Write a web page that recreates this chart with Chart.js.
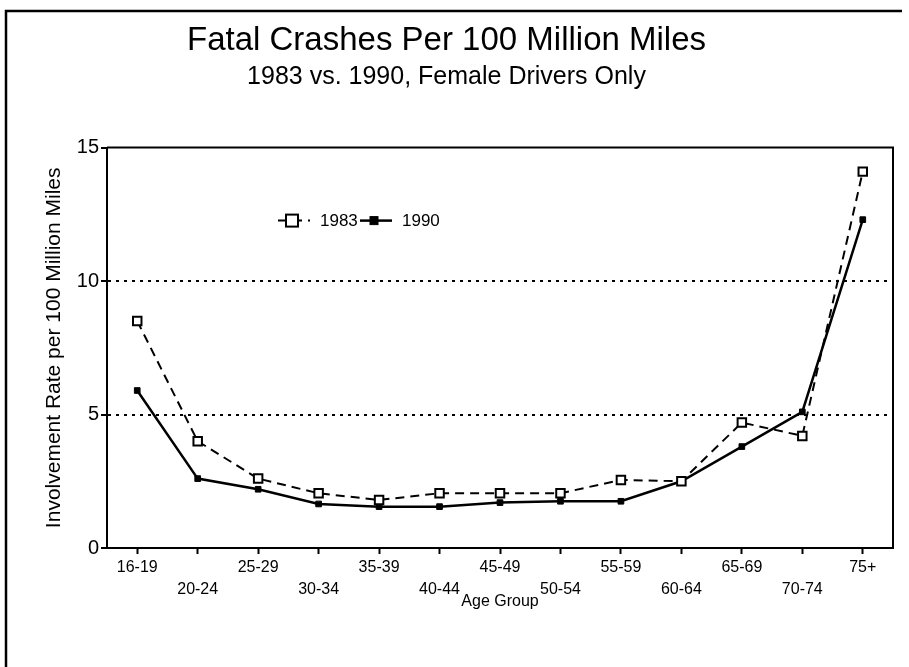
<!DOCTYPE html>
<html>
<head>
<meta charset="utf-8">
<script src="https://cdn.jsdelivr.net/npm/chart.js@4.4.1/dist/chart.umd.min.js"></script>
<style>
  html, body { margin: 0; padding: 0; background: #fff; }
  #wrap { width: 909px; height: 667px; position: relative; }
</style>
</head>
<body>
<div id="wrap"><canvas id="myChart" width="909" height="667"></canvas></div>
<script>
const ageGroups = ['16-19', '20-24', '25-29', '30-34', '35-39', '40-44', '45-49', '50-54', '55-59', '60-64', '65-69', '70-74', '75+'];
const rate1983 = [8.5, 4.0, 2.6, 2.05, 1.8, 2.05, 2.05, 2.05, 2.55, 2.5, 4.7, 4.2, 14.1];
const rate1990 = [5.9, 2.6, 2.2, 1.65, 1.55, 1.55, 1.7, 1.75, 1.75, 2.5, 3.8, 5.1, 12.3];
const yTicks = [0, 5, 10, 15];
const seriesNames = ['1983', '1990'];

const FONT = "'Liberation Sans', Arial, sans-serif";

// page frame + box round the plot
const framePlugin = {
  id: 'frame',
  beforeDraw(chart) {
    const ctx = chart.ctx;
    ctx.save();
    ctx.fillStyle = '#fff';
    ctx.fillRect(0, 0, chart.width, chart.height);
    ctx.strokeStyle = '#000';
    ctx.lineWidth = 2.5;
    ctx.beginPath();
    ctx.moveTo(6, chart.height);
    ctx.lineTo(6, 11);
    ctx.lineTo(902, 11);
    ctx.stroke();
    ctx.restore();
  },
  afterDatasetsDraw(chart) {
    const a = chart.chartArea;
    const ctx = chart.ctx;
    ctx.save();
    ctx.strokeStyle = '#000';
    ctx.lineWidth = 2;
    ctx.beginPath();
    ctx.moveTo(a.left, a.top);
    ctx.lineTo(a.right, a.top);
    ctx.lineTo(a.right, a.bottom);
    ctx.stroke();
    ctx.restore();
  }
};

// legend inside the plot: line + marker + label
const inlineLegend = {
  id: 'inlineLegend',
  afterDraw(chart) {
    const ctx = chart.ctx;
    const a = chart.chartArea;
    const y = a.top + 73;
    let x = a.left + 171;
    ctx.save();
    ctx.font = '17px ' + FONT;
    ctx.fillStyle = '#000';
    ctx.textBaseline = 'middle';
    chart.data.datasets.forEach((ds, i) => {
      ctx.strokeStyle = '#000';
      ctx.lineWidth = ds.borderWidth;
      ctx.setLineDash(ds.borderDash || []);
      ctx.beginPath();
      ctx.moveTo(x, y);
      ctx.lineTo(x + 32, y);
      ctx.stroke();
      ctx.setLineDash([]);
      const r = ds.pointRadius;
      ctx.fillStyle = ds.pointBackgroundColor;
      ctx.fillRect(x + 14 - r, y - r, r * 2, r * 2);
      ctx.lineWidth = ds.pointBorderWidth;
      ctx.strokeRect(x + 14 - r, y - r, r * 2, r * 2);
      ctx.fillStyle = '#000';
      ctx.fillText(ds.label, x + 42, y + 1);
      x += 82;
    });
    ctx.restore();
  }
};

const data = {
  labels: ageGroups,
  datasets: [
    {
      label: seriesNames[0],
      data: rate1983,
      borderColor: '#000',
      borderWidth: 2,
      borderDash: [9, 6],
      pointStyle: 'rect',
      pointRadius: 6,
      pointBorderWidth: 2,
      pointBackgroundColor: '#fff',
      pointBorderColor: '#000',
      tension: 0
    },
    {
      label: seriesNames[1],
      data: rate1990,
      borderColor: '#000',
      borderWidth: 2.5,
      borderDash: [],
      pointStyle: 'rect',
      pointRadius: 4,
      pointBorderWidth: 1,
      pointBackgroundColor: '#000',
      pointBorderColor: '#000',
      tension: 0
    }
  ]
};

const config = {
  type: 'line',
  data: data,
  options: {
    responsive: false,
    animation: false,
    devicePixelRatio: 1,
    layout: { padding: { left: 0, right: 16, top: 14, bottom: 0 } },
    plugins: {
      legend: { display: false },
      tooltip: { enabled: false },
      title: {
        display: true,
        text: 'Fatal Crashes Per 100 Million Miles',
        color: '#000',
        font: { family: FONT, size: 33, weight: 'normal', lineHeight: 1.2 },
        padding: { top: 7, bottom: 0 }
      },
      subtitle: {
        display: true,
        text: '1983 vs. 1990, Female Drivers Only',
        color: '#000',
        font: { family: FONT, size: 25, weight: 'normal', lineHeight: 1.2 },
        padding: { top: 2, bottom: 55 }
      }
    },
    scales: {
      x: {
        type: 'category',
        offset: true,
        afterFit(scale) { scale.height = 119; },
        grid: { drawOnChartArea: false, drawTicks: true, tickLength: 6, tickColor: '#000', tickWidth: 2 },
        border: { display: true, color: '#000', width: 2 },
        ticks: {
          autoSkip: false,
          maxRotation: 0,
          minRotation: 0,
          padding: 2,
          color: '#000',
          font: { family: FONT, size: 16, lineHeight: 1.4 },
          callback(value, index) {
            const lab = ageGroups[index];
            return index % 2 === 0 ? [lab, ''] : ['', lab];
          }
        },
        title: {
          display: true,
          text: 'Age Group',
          color: '#000',
          font: { family: FONT, size: 16, lineHeight: 1.2 },
          padding: { top: 0, bottom: 56 }
        }
      },
      y: {
        min: 0,
        max: 15,
        afterFit(scale) { scale.width = 107; },
        afterBuildTicks(scale) { scale.ticks = yTicks.map(v => ({ value: v })); },
        grid: {
          color: (c) => (c.tick && (c.tick.value === 5 || c.tick.value === 10)) ? '#000' : 'rgba(0,0,0,0)',
          lineWidth: 2,
          tickColor: '#000',
          tickLength: 6,
          tickWidth: 2,
          tickBorderDash: []
        },
        border: { display: true, color: '#000', width: 2, dash: [3, 5] },
        ticks: {
          padding: 2,
          color: '#000',
          font: { family: FONT, size: 20 }
        },
        title: {
          display: true,
          text: 'Involvement Rate per 100 Million Miles',
          color: '#000',
          font: { family: FONT, size: 21, lineHeight: 1.2 },
          padding: { top: 42, bottom: 0 }
        }
      }
    }
  },
  plugins: [framePlugin, inlineLegend]
};

const chart = new Chart(document.getElementById('myChart'), config);
</script>
</body>
</html>
